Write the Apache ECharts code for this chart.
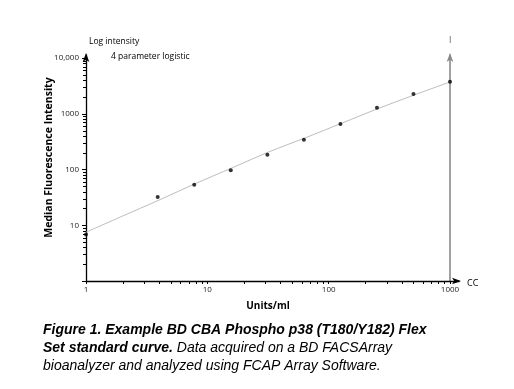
<!DOCTYPE html>
<html>
<head>
<meta charset="utf-8">
<script src="https://cdn.jsdelivr.net/npm/echarts@6/dist/echarts.min.js"></script>
<style>
html,body{margin:0;padding:0;background:#fff;}
#chart{width:514px;height:389px;}
</style>
</head>
<body>
<div id="chart"></div>
<script>
// Standard points (Units/ml vs MFI)
const units = [1, 3.9, 7.8, 15.6, 31.25, 62.5, 125, 250, 500, 1000];
const mfi = [6.8, 32, 53, 97, 183, 343, 656, 1286, 2264, 3760];
// 4-parameter logistic fit
const curveUnits = [1, 2, 4, 8, 16, 32, 64, 128, 256, 512, 1000];
const curveMfi = [7.5, 14.6, 28.3, 56, 107, 206, 369, 676, 1239, 2188, 3715];
// Minor tick values
const xMinor = [2,3,4,5,6,7,8,9,20,30,40,50,60,70,80,90,200,300,400,500,600,700,800,900];
const yMinor = [2,3,4,5,6,7,8,9,20,30,40,50,60,70,80,90,200,300,400,500,600,700,800,900,2000,3000,4000,5000,6000,7000,8000,9000];
// Tick labels
const xLabels = {1: '1', 10: '10', 100: '100', 1000: '1000'};
const yLabels = {10: '10', 100: '100', 1000: '1000', 10000: '10,000'};

const FONT = 'Open Sans';
const chart = echarts.init(document.getElementById('chart'), null, {renderer: 'canvas'});

const arrowLine = (color, w) => ({
  show: true,
  lineStyle: {color: color, width: w},
  symbol: ['none', 'arrow'],
  symbolSize: [5, 9],
  symbolOffset: [0, 2]
});

const option = {
  backgroundColor: '#fff',
  animation: false,
  grid: [
    {left: 86, right: 64, top: 58, bottom: 108},
    {left: 86, right: 64, top: 55, bottom: 108},
    {left: 86, right: 55, top: 58, bottom: 108}
  ],
  xAxis: [
    {
      type: 'log', gridIndex: 0, min: 1, max: 1000, logBase: 10,
      name: 'Units/ml', nameLocation: 'middle', nameGap: 20, nameMoveOverlap: false,
      nameTextStyle: {fontFamily: FONT, fontSize: 10, fontWeight: 'bold', color: '#000'},
      axisLine: {show: false},
      axisTick: {show: true, length: 3, inside: false, lineStyle: {color: '#000', width: 1}},
      axisLabel: {fontFamily: FONT, fontSize: 8, color: '#222', margin: 5,
        formatter: v => xLabels[Math.round(v)] || ''},
      splitLine: {show: false}, minorTick: {show: false}
    },
    {type: 'value', gridIndex: 1, show: false},
    {
      type: 'value', gridIndex: 2, min: 0, max: 1,
      axisLine: arrowLine('#000', 1.3),
      axisTick: {show: false}, axisLabel: {show: false}, splitLine: {show: false}
    }
  ],
  yAxis: [
    {
      type: 'log', gridIndex: 0, min: 1, max: 10000, logBase: 10,
      name: 'Median Fluorescence Intensity', nameLocation: 'middle', nameGap: 31, nameMoveOverlap: false,
      nameTextStyle: {fontFamily: FONT, fontSize: 10.5, fontWeight: 'bold', color: '#000', padding: [0, 0, 0, 24]},
      axisLine: {show: false},
      axisTick: {show: true, length: 4, lineStyle: {color: '#000', width: 1}},
      axisLabel: {
        fontFamily: FONT, fontSize: 8, color: '#222', margin: 7,
        formatter: v => yLabels[Math.round(v)] || ''
      },
      splitLine: {show: false}, minorTick: {show: false}
    },
    {
      type: 'value', gridIndex: 1, min: 0, max: 1, position: 'left',
      axisLine: arrowLine('#000', 1.3),
      axisTick: {show: false}, axisLabel: {show: false}, splitLine: {show: false}
    },
    {
      type: 'value', gridIndex: 1, min: 0, max: 1, position: 'right',
      axisLine: arrowLine('#8a8a8a', 1.6),
      axisTick: {show: false}, axisLabel: {show: false}, splitLine: {show: false}
    },
    {type: 'value', gridIndex: 2, show: false}
  ],
  series: [
    {
      type: 'line', xAxisIndex: 0, yAxisIndex: 0,
      data: curveUnits.map((u, i) => [u, curveMfi[i]]),
      showSymbol: false, smooth: 0.3,
      lineStyle: {color: '#bdbdbd', width: 1},
      z: 2
    },
    {
      type: 'scatter', xAxisIndex: 0, yAxisIndex: 0,
      data: units.map((u, i) => [u, mfi[i]]),
      symbol: 'circle', symbolSize: 4,
      itemStyle: {color: '#000'},
      z: 3
    },
    {
      type: 'custom', xAxisIndex: 0, yAxisIndex: 0,
      data: xMinor.map(v => [v, 1]),
      renderItem: (params, api) => {
        const p = api.coord([api.value(0), api.value(1)]);
        const x = Math.round(p[0]) + 0.5;
        return {type: 'line', shape: {x1: x, y1: p[1], x2: x, y2: p[1] + 3}, style: {stroke: '#000', lineWidth: 1}};
      },
      silent: true
    },
    {
      type: 'custom', xAxisIndex: 0, yAxisIndex: 0,
      data: yMinor.map(v => [1, v]),
      renderItem: (params, api) => {
        const p = api.coord([api.value(0), api.value(1)]);
        const y = Math.round(p[1]) + 0.5;
        return {type: 'line', shape: {x1: p[0] - 3, y1: y, x2: p[0], y2: y}, style: {stroke: '#000', lineWidth: 1}};
      },
      silent: true
    }
  ],
  graphic: [
    {type: 'text', left: 89, top: 37, style: {text: 'Log intensity', fontFamily: FONT, fontSize: 8.5, fill: '#000'}},
    {type: 'text', left: 111, top: 52, style: {text: '4 parameter logistic', fontFamily: FONT, fontSize: 8.5, fill: '#000'}},
    {type: 'text', left: 449, top: 36, style: {text: 'I', fontFamily: FONT, fontSize: 8.5, fill: '#555'}},
    {type: 'text', left: 467, top: 279, style: {text: 'CC', fontFamily: FONT, fontSize: 9, fill: '#000'}},
    {
      type: 'text', left: 43, top: 321,
      style: {
        text: '{b|Figure 1. Example BD CBA Phospho p38 (T180/Y182) Flex}\n{b|Set standard curve.}{i| Data acquired on a BD FACSArray}\n{i|bioanalyzer and analyzed using FCAP Array Software.}',
        fill: '#000', lineHeight: 18,
        rich: {
          b: {fontFamily: 'Liberation Sans', fontSize: 14, fontStyle: 'italic', fontWeight: 'bold', lineHeight: 18, fill: '#000'},
          i: {fontFamily: 'Liberation Sans', fontSize: 14, fontStyle: 'italic', fontWeight: 'normal', lineHeight: 18, fill: '#000'}
        }
      }
    }
  ]
};
chart.setOption(option);
</script>
</body>
</html>
